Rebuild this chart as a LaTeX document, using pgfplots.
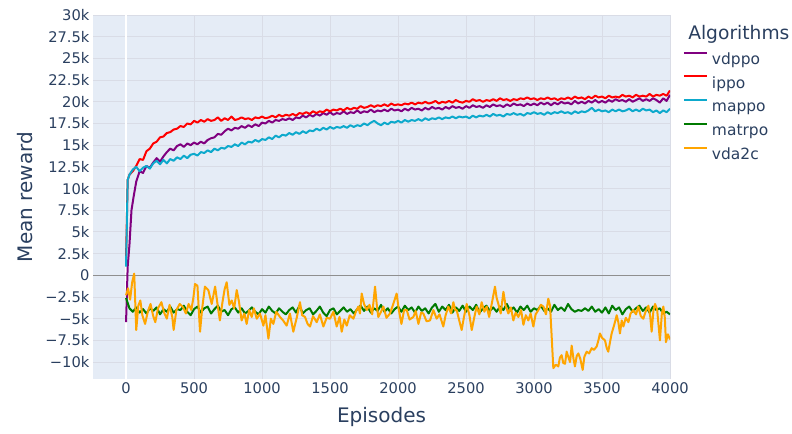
\documentclass[border=0pt]{standalone}
\usepackage{fontspec}
\setmainfont{DejaVu Sans}
\usepackage{pgfplots}
\pgfplotsset{compat=1.18}
\definecolor{plotbg}{HTML}{E5ECF6}
\definecolor{gridc}{HTML}{D9DCE6}
\definecolor{textc}{HTML}{2A3F5F}
\definecolor{zeroc}{HTML}{8F8F8F}
\definecolor{cvdppo}{HTML}{800080}
\definecolor{cippo}{HTML}{FF0000}
\definecolor{cmappo}{HTML}{0DA9CC}
\definecolor{cmatrpo}{HTML}{007A00}
\definecolor{cvda}{HTML}{FFA500}
\begin{document}
\begin{tikzpicture}
\useasboundingbox (0,0) rectangle (594pt,-324.75pt);
\begin{axis}[at={(69.75pt,-11.25pt)},anchor=north west,scale only axis,
  width=432.75pt,height=273pt,
  xmin=-243,xmax=4000,ymin=-11.95,ymax=30,
  axis background/.style={fill=plotbg},
  axis line style={draw=none},tick style={draw=none},
  grid=major,major grid style={gridc,line width=0.75pt},
  xtick={0,500,1000,1500,2000,2500,3000,3500,4000},
  xticklabels={0,500,1000,1500,2000,2500,3000,3500,4000},
  ytick={-10,-7.5,-5,-2.5,0,2.5,5,7.5,10,12.5,15,17.5,20,22.5,25,27.5,30},
  yticklabels={−10k,−7.5k,−5k,−2.5k,0,2.5k,5k,7.5k,10k,12.5k,15k,17.5k,20k,22.5k,25k,27.5k,30k},
  every tick label/.append style={font=\fontsize{11}{13}\selectfont,text=textc},
  yticklabel style={inner sep=0pt,xshift=-2.5pt},
  xticklabel style={inner sep=0pt,yshift=-2.6pt},
  extra x ticks={0},extra x tick labels={},
  extra x tick style={grid=major,major grid style={white,line width=1.5pt}},
  extra y ticks={0},extra y tick labels={},
  extra y tick style={grid=major,major grid style={zeroc,line width=1pt}},
  xlabel={Episodes},ylabel={Mean reward},
  label style={font=\fontsize{15}{18}\selectfont,text=textc},
  xlabel style={at={(axis description cs:0.5,-0.1044)},anchor=center},
  ylabel style={at={(axis description cs:-0.1178,0.5)},anchor=center},
  legend style={at={(axis description cs:1.0225,0.8995)},anchor=north west,
    draw=none,fill=none,inner sep=0pt,outer sep=0pt,
    font=\fontsize{11.6}{13}\selectfont,text=textc,row sep=6.05pt,
    nodes={inner sep=0pt,text height=8.8pt,text depth=2.4pt},
    /tikz/every odd column/.append style={column sep=3pt}},
  legend cell align=left,
  legend image code/.code={\draw[#1,line width=1.5pt] (0pt,5.5pt) -- (17.25pt,5.5pt);},
  every axis plot/.append style={line width=1.5pt,line join=round}]

% vdppo
\addplot[cvdppo] coordinates {
(0,-5.4) (12,1.0) (25,3.5) (40,7.5) (55,9.0) (75,10.8) (100,12.0) (125,11.8) (150,12.6) (175,12.4)
(200,13.0) (225,13.5) (250,13.1) (275,13.7) (300,14.2) (325,14.6) (350,14.4) (375,14.9) (400,15.1) (425,14.8)
(450,15.2) (475,15.0) (500,15.3) (525,15.1) (550,15.4) (575,15.2) (600,15.6) (625,15.8) (650,15.9) (675,16.3)
(700,16.2) (725,16.6) (750,16.9) (775,16.7) (800,17.0) (825,16.9) (850,17.2) (875,17.0) (900,17.3) (925,17.1)
(950,17.4) (975,17.2) (1000,17.6) (1025,17.5) (1050,17.8) (1075,17.6) (1100,17.9) (1125,17.8) (1150,18.0) (1175,17.9)
(1200,18.1) (1225,17.9) (1250,18.2) (1275,18.1) (1300,18.4) (1325,18.2) (1350,18.5) (1375,18.3) (1400,18.6) (1425,18.4)
(1450,18.7) (1475,18.5) (1500,18.8) (1525,18.5) (1550,18.7) (1575,18.6) (1600,18.9) (1625,18.6) (1650,18.8) (1675,18.7)
(1700,19.0) (1725,18.7) (1750,18.9) (1775,18.8) (1800,19.1) (1825,18.8) (1850,19.0) (1875,18.9) (1900,19.1) (1925,18.9)
(1950,19.2) (1975,19.0) (2000,19.1) (2025,18.9) (2050,19.2) (2075,19.0) (2100,19.3) (2125,19.1) (2150,19.2) (2175,19.0)
(2200,19.3) (2225,19.1) (2250,19.4) (2275,19.2) (2300,19.3) (2325,19.1) (2350,19.4) (2375,19.2) (2400,19.5) (2425,19.3)
(2450,19.4) (2475,19.2) (2500,19.5) (2525,19.3) (2550,19.6) (2575,19.4) (2600,19.5) (2625,19.3) (2650,19.6) (2675,19.4)
(2700,19.7) (2725,19.5) (2750,19.6) (2775,19.4) (2800,19.7) (2825,19.5) (2850,19.8) (2875,19.6) (2900,19.7) (2925,19.5)
(2950,19.8) (2975,19.6) (3000,19.8) (3025,19.6) (3050,19.9) (3075,19.7) (3100,19.9) (3125,19.6) (3150,19.9) (3175,19.7)
(3200,20.0) (3225,19.8) (3250,19.9) (3275,19.7) (3300,20.1) (3325,19.8) (3350,20.0) (3375,19.8) (3400,20.1) (3425,19.9)
(3450,20.2) (3475,19.9) (3500,20.1) (3525,19.9) (3550,20.2) (3575,20.0) (3600,20.3) (3625,20.1) (3650,20.2) (3675,20.0)
(3700,20.3) (3725,20.0) (3750,20.2) (3775,20.4) (3800,20.1) (3825,20.3) (3850,20.1) (3875,20.4) (3900,20.2) (3925,19.9)
(3950,20.4) (3975,20.1) (4000,20.8)};
\addlegendentry{vdppo}

% ippo
\addplot[cippo] coordinates {
(0,2.0) (12,11.0) (25,11.6) (50,12.0) (75,12.6) (100,13.4) (125,13.3) (150,14.3) (175,14.6) (200,15.2)
(225,15.4) (250,15.9) (275,16.0) (300,16.4) (325,16.5) (350,16.8) (375,16.9) (400,17.2) (425,17.1) (450,17.5)
(475,17.4) (500,17.8) (525,17.6) (550,17.9) (575,17.7) (600,18.0) (625,17.8) (650,17.9) (675,18.2) (700,17.8)
(725,18.1) (750,17.9) (775,18.3) (800,17.9) (825,18.0) (850,18.2) (875,18.0) (900,18.1) (925,17.9) (950,18.2)
(975,18.1) (1000,18.3) (1025,18.1) (1050,18.2) (1075,18.4) (1100,18.2) (1125,18.5) (1150,18.3) (1175,18.5) (1200,18.4)
(1225,18.6) (1250,18.4) (1275,18.7) (1300,18.6) (1325,18.8) (1350,18.6) (1375,18.9) (1400,18.7) (1425,18.9) (1450,18.8)
(1475,19.1) (1500,18.9) (1525,19.1) (1550,19.0) (1575,19.2) (1600,19.0) (1625,19.3) (1650,19.1) (1675,19.3) (1700,19.2)
(1725,19.5) (1750,19.3) (1775,19.4) (1800,19.6) (1825,19.4) (1850,19.6) (1875,19.5) (1900,19.7) (1925,19.5) (1950,19.8)
(1975,19.6) (2000,19.7) (2025,19.6) (2050,19.8) (2075,19.7) (2100,19.9) (2125,19.7) (2150,19.9) (2175,19.8) (2200,20.0)
(2225,19.8) (2250,19.9) (2275,20.1) (2300,19.8) (2325,20.0) (2350,19.9) (2375,20.1) (2400,19.9) (2425,20.2) (2450,20.0)
(2475,19.9) (2500,20.1) (2525,20.0) (2550,20.3) (2575,20.1) (2600,20.2) (2625,20.0) (2650,20.2) (2675,20.1) (2700,20.3)
(2725,20.1) (2750,20.4) (2775,20.2) (2800,20.3) (2825,20.1) (2850,20.3) (2875,20.2) (2900,20.4) (2925,20.3) (2950,20.5)
(2975,20.3) (3000,20.4) (3025,20.2) (3050,20.4) (3075,20.3) (3100,20.5) (3125,20.3) (3150,20.4) (3175,20.2) (3200,20.4)
(3225,20.3) (3250,20.5) (3275,20.3) (3300,20.6) (3325,20.4) (3350,20.5) (3375,20.3) (3400,20.6) (3425,20.4) (3450,20.7)
(3475,20.5) (3500,20.6) (3525,20.4) (3550,20.7) (3575,20.5) (3600,20.6) (3625,20.5) (3650,20.8) (3675,20.6) (3700,20.7)
(3725,20.5) (3750,20.8) (3775,20.6) (3800,20.7) (3825,20.6) (3850,20.9) (3875,20.6) (3900,20.8) (3925,20.7) (3950,20.9)
(3975,20.7) (4000,21.3)};
\addlegendentry{ippo}

% mappo
\addplot[cmappo] coordinates {
(0,1.0) (12,11.0) (25,11.6) (50,12.2) (75,12.5) (100,12.0) (125,12.4) (150,12.6) (175,12.3) (200,12.9)
(225,13.2) (250,12.8) (275,13.3) (300,12.9) (325,13.4) (350,13.2) (375,13.6) (400,13.4) (425,13.8) (450,13.5)
(475,13.9) (500,14.0) (525,13.8) (550,14.2) (575,14.1) (600,14.4) (625,14.2) (650,14.6) (675,14.4) (700,14.7)
(725,14.6) (750,14.9) (775,14.8) (800,15.1) (825,14.9) (850,15.3) (875,15.1) (900,15.4) (925,15.3) (950,15.6)
(975,15.4) (1000,15.7) (1025,15.6) (1050,15.9) (1075,15.7) (1100,16.1) (1125,15.9) (1150,16.2) (1175,16.1) (1200,16.4)
(1225,16.2) (1250,16.5) (1275,16.3) (1300,16.6) (1325,16.4) (1350,16.7) (1375,16.6) (1400,16.9) (1425,16.7) (1450,17.0)
(1475,16.8) (1500,17.1) (1525,16.9) (1550,17.1) (1575,17.0) (1600,17.2) (1625,17.0) (1650,17.3) (1675,17.1) (1700,17.3)
(1725,17.2) (1750,17.5) (1775,17.3) (1800,17.6) (1825,17.8) (1850,17.5) (1875,17.3) (1900,17.6) (1925,17.4) (1950,17.7)
(1975,17.6) (2000,17.8) (2025,17.6) (2050,17.9) (2075,17.7) (2100,17.9) (2125,17.8) (2150,18.0) (2175,17.8) (2200,18.1)
(2225,17.9) (2250,18.1) (2275,18.0) (2300,18.2) (2325,18.0) (2350,18.2) (2375,18.1) (2400,18.3) (2425,18.1) (2450,18.3)
(2475,18.2) (2500,18.3) (2525,18.1) (2550,18.4) (2575,18.2) (2600,18.4) (2625,18.3) (2650,18.5) (2675,18.3) (2700,18.6)
(2725,18.4) (2750,18.5) (2775,18.3) (2800,18.6) (2825,18.5) (2850,18.7) (2875,18.5) (2900,18.6) (2925,18.4) (2950,18.7)
(2975,18.6) (3000,18.8) (3025,18.6) (3050,18.7) (3075,18.5) (3100,18.8) (3125,18.6) (3150,18.8) (3175,18.7) (3200,18.9)
(3225,18.7) (3250,18.8) (3275,18.6) (3300,18.9) (3325,18.7) (3350,18.9) (3375,18.8) (3400,19.0) (3425,19.3) (3450,18.9)
(3475,19.1) (3500,18.9) (3525,19.0) (3550,18.8) (3575,19.1) (3600,18.9) (3625,19.1) (3650,18.9) (3675,19.0) (3700,19.2)
(3725,18.9) (3750,19.1) (3775,18.9) (3800,19.2) (3825,19.0) (3850,19.1) (3875,18.8) (3900,19.0) (3925,18.7) (3950,19.0)
(3975,18.8) (4000,19.2)};
\addlegendentry{mappo}

% matrpo
\addplot[cmatrpo] coordinates {
(0,-2.6) (25,-3.8) (50,-4.2) (75,-3.7) (100,-4.3) (125,-3.9) (150,-4.4) (175,-3.8) (200,-4.1) (225,-3.7)
(250,-4.5) (275,-3.9) (300,-4.2) (325,-3.6) (350,-4.3) (375,-3.9) (400,-4.0) (425,-3.5) (450,-4.2) (475,-4.6)
(500,-3.9) (525,-3.6) (550,-4.3) (575,-3.8) (600,-3.6) (625,-4.4) (650,-3.9) (675,-3.5) (700,-4.2) (725,-4.0)
(750,-4.6) (775,-3.9) (800,-3.7) (825,-4.3) (850,-3.8) (875,-4.4) (900,-4.1) (925,-3.7) (950,-4.2) (975,-4.5)
(1000,-3.9) (1025,-4.3) (1050,-3.6) (1075,-4.1) (1100,-4.4) (1125,-3.8) (1150,-4.2) (1175,-4.5) (1200,-4.0) (1225,-3.7)
(1250,-4.3) (1275,-3.5) (1300,-4.4) (1325,-4.0) (1350,-3.8) (1375,-4.5) (1400,-4.1) (1425,-3.6) (1450,-4.3) (1475,-4.7)
(1500,-4.0) (1525,-3.8) (1550,-4.5) (1575,-4.1) (1600,-3.7) (1625,-4.2) (1650,-3.9) (1675,-4.4) (1700,-3.9) (1725,-3.5)
(1750,-4.1) (1775,-3.6) (1800,-4.3) (1825,-3.8) (1850,-4.1) (1875,-3.4) (1900,-4.2) (1925,-3.8) (1950,-4.4) (1975,-3.9)
(2000,-3.6) (2025,-4.2) (2050,-3.5) (2075,-4.0) (2100,-3.7) (2125,-4.3) (2150,-3.6) (2175,-4.1) (2200,-3.8) (2225,-4.4)
(2250,-3.7) (2275,-3.3) (2300,-4.2) (2325,-3.6) (2350,-4.0) (2375,-3.4) (2400,-4.3) (2425,-3.7) (2450,-4.1) (2475,-3.5)
(2500,-4.2) (2525,-3.6) (2550,-4.0) (2575,-3.4) (2600,-4.3) (2625,-3.8) (2650,-3.5) (2675,-4.1) (2700,-3.7) (2725,-4.2)
(2750,-3.6) (2775,-4.0) (2800,-3.3) (2825,-4.1) (2850,-3.7) (2875,-4.3) (2900,-3.6) (2925,-4.0) (2950,-3.5) (2975,-4.2)
(3000,-3.8) (3025,-4.0) (3050,-3.5) (3075,-4.1) (3100,-3.8) (3125,-4.2) (3150,-3.4) (3175,-4.0) (3200,-3.7) (3225,-4.1)
(3250,-3.3) (3275,-3.9) (3300,-4.2) (3325,-4.0) (3350,-4.1) (3375,-3.8) (3400,-4.1) (3425,-3.6) (3450,-4.2) (3475,-3.9)
(3500,-4.3) (3525,-3.7) (3550,-4.4) (3575,-3.5) (3600,-4.0) (3625,-3.7) (3650,-4.5) (3675,-3.9) (3700,-3.6) (3725,-4.2)
(3750,-3.8) (3775,-3.5) (3800,-4.1) (3825,-3.7) (3850,-4.3) (3875,-3.6) (3900,-4.0) (3925,-3.8) (3950,-4.4) (3975,-4.2)
(4000,-4.5)};
\addlegendentry{matrpo}

% vda2c
\addplot[cvda] coordinates {
(0,-2.3) (15,-1.5) (30,-2.8) (45,-0.8) (60,0.2) (75,-6.3) (90,-3.5) (105,-2.9) (120,-4.6) (140,-5.6)
(160,-4.2) (180,-3.3) (200,-4.7) (215,-5.4) (235,-3.8) (260,-3.1) (280,-4.3) (300,-5.0) (320,-3.4) (340,-4.8)
(350,-6.3) (370,-4.0) (395,-3.3) (420,-3.7) (440,-4.4) (460,-3.3) (480,-4.0) (495,-2.6) (507,-1.0) (525,-1.2)
(544,-6.5) (560,-3.8) (580,-1.3) (605,-1.7) (630,-3.3) (655,-1.3) (675,-3.6) (690,-5.2) (710,-3.0) (725,-1.6)
(740,-0.8) (760,-3.4) (777,-2.9) (795,-3.8) (814,-1.7) (830,-3.0) (850,-5.2) (870,-4.4) (887,-5.6) (905,-4.0)
(924,-4.8) (940,-3.8) (961,-5.0) (985,-4.4) (1010,-5.8) (1025,-4.6) (1047,-7.3) (1065,-5.0) (1083,-5.6) (1105,-4.2)
(1132,-4.8) (1155,-5.2) (1181,-5.8) (1205,-4.4) (1230,-6.5) (1255,-4.9) (1279,-3.1) (1295,-4.6) (1316,-4.8) (1335,-5.6)
(1353,-5.9) (1375,-4.7) (1402,-5.4) (1425,-4.5) (1451,-5.9) (1475,-4.9) (1500,-5.0) (1525,-4.2) (1549,-5.9) (1570,-4.8)
(1586,-6.5) (1605,-5.1) (1623,-5.8) (1645,-4.6) (1672,-5.0) (1690,-4.2) (1708,-3.6) (1720,-4.4) (1733,-2.1) (1750,-3.3)
(1770,-4.0) (1790,-3.4) (1810,-4.5) (1831,-1.3) (1845,-3.6) (1855,-4.8) (1875,-4.2) (1892,-3.6) (1915,-4.9) (1941,-4.4)
(1965,-3.3) (1990,-2.1) (2005,-3.9) (2025,-5.6) (2045,-4.0) (2064,-4.0) (2085,-5.1) (2113,-4.8) (2130,-4.1) (2150,-5.6)
(2170,-4.3) (2186,-4.4) (2210,-5.3) (2235,-5.2) (2260,-4.0) (2284,-5.0) (2305,-4.5) (2333,-5.9) (2350,-4.6) (2370,-3.6)
(2390,-4.4) (2407,-3.1) (2420,-4.0) (2431,-4.0) (2450,-5.2) (2468,-6.3) (2485,-4.8) (2505,-3.3) (2525,-4.6) (2542,-6.3)
(2560,-4.9) (2578,-3.6) (2598,-4.5) (2615,-3.1) (2635,-4.2) (2652,-3.6) (2670,-4.8) (2689,-3.3) (2713,-1.3) (2725,-2.6)
(2738,-3.3) (2755,-4.4) (2775,-1.9) (2790,-3.4) (2811,-4.4) (2830,-3.7) (2848,-5.2) (2865,-4.3) (2885,-4.8) (2905,-4.0)
(2922,-5.7) (2940,-4.6) (2958,-5.2) (2975,-4.4) (2995,-5.9) (3012,-4.5) (3032,-4.0) (3050,-3.4) (3069,-3.6) (3088,-4.5)
(3105,-2.7) (3118,-3.5) (3130,-7.1) (3142,-10.7) (3160,-10.3) (3179,-10.5) (3190,-9.5) (3203,-9.2) (3215,-10.1) (3228,-10.2)
(3240,-8.8) (3252,-9.4) (3265,-10.0) (3277,-8.1) (3290,-9.6) (3301,-10.5) (3314,-9.3) (3326,-9.0) (3340,-9.6) (3358,-10.9)
(3370,-9.4) (3387,-8.8) (3405,-9.0) (3424,-8.4) (3440,-8.6) (3461,-8.2) (3475,-7.4) (3485,-6.7) (3500,-7.2) (3522,-7.5)
(3535,-8.4) (3546,-8.8) (3560,-7.6) (3571,-6.7) (3590,-5.7) (3608,-4.6) (3620,-5.4) (3632,-6.7) (3645,-5.2) (3657,-5.9)
(3675,-4.9) (3694,-5.4) (3710,-4.4) (3730,-4.0) (3750,-4.5) (3767,-3.6) (3785,-4.7) (3804,-5.0) (3820,-4.2) (3841,-3.5)
(3855,-4.8) (3865,-6.5) (3878,-4.1) (3890,-3.3) (3905,-3.9) (3926,-7.5) (3940,-4.4) (3951,-3.6) (3962,-4.9) (3970,-7.7)
(3985,-6.8) (4000,-7.4)};
\addlegendentry{vda2c}
\end{axis}
\node[anchor=base west,inner sep=0pt,font=\fontsize{14}{16}\selectfont,text=textc] at (516pt,-29.5pt) {Algorithms};
\end{tikzpicture}
\end{document}
